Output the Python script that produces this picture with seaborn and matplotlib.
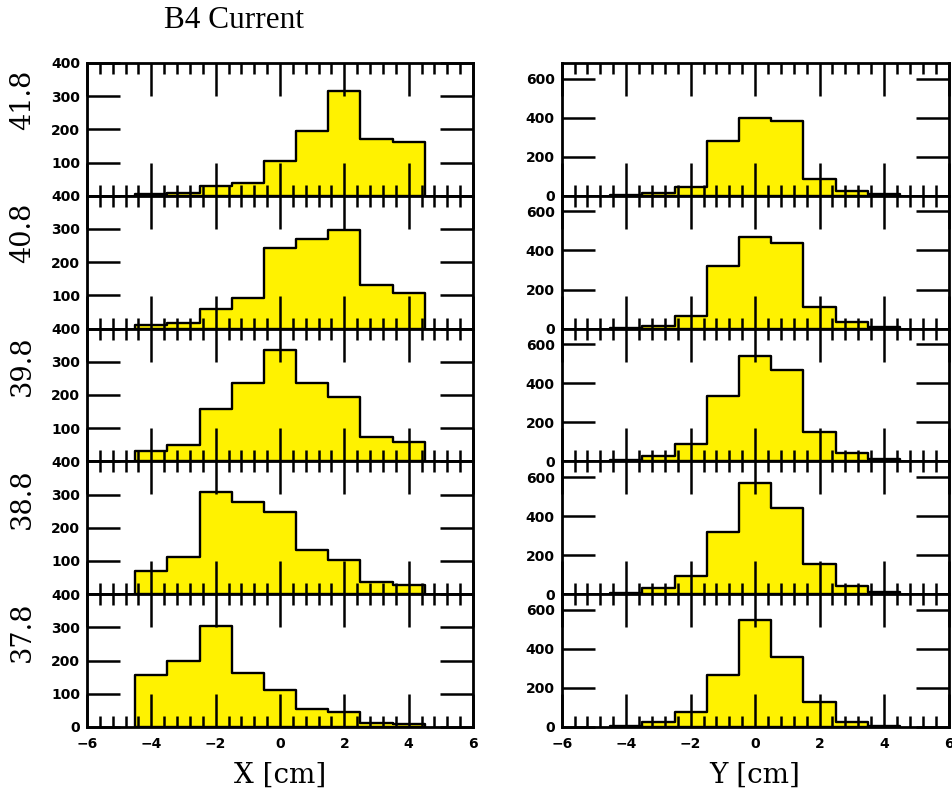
import numpy as np
import matplotlib
matplotlib.use("Agg")
import matplotlib.pyplot as plt
from matplotlib.ticker import MultipleLocator, FixedFormatter
import pandas as pd
import seaborn as sns

# B4 current settings, top to bottom
currents = ["41.8", "40.8", "39.8", "38.8", "37.8"]

# Common binning for both projections (cm)
bin_edges = [-4.5, -3.5, -2.5, -1.5, -0.5, 0.5, 1.5, 2.5, 3.5, 4.5]

# Counts per bin, X projection
x_41_8 = [6, 9, 30, 40, 105, 196, 317, 172, 162]
x_40_8 = [10, 16, 58, 92, 242, 270, 298, 132, 108]
x_39_8 = [30, 48, 157, 236, 337, 236, 195, 74, 57]
x_38_8 = [69, 113, 308, 277, 249, 133, 104, 37, 29]
x_37_8 = [158, 198, 304, 162, 112, 53, 46, 12, 10]

# Counts per bin, Y projection
y_41_8 = [3, 12, 45, 279, 396, 381, 86, 26, 7]
y_40_8 = [5, 15, 62, 321, 470, 437, 111, 36, 7]
y_39_8 = [5, 29, 89, 337, 542, 467, 150, 44, 14]
y_38_8 = [7, 34, 95, 321, 567, 440, 156, 40, 10]
y_37_8 = [7, 24, 77, 266, 550, 360, 129, 26, 7]

x_counts = [x_41_8, x_40_8, x_39_8, x_38_8, x_37_8]
y_counts = [y_41_8, y_40_8, y_39_8, y_38_8, y_37_8]

x_yticks = [0, 100, 200, 300, 400]
y_yticks = [0, 200, 400, 600]
xticks = [-6, -4, -2, 0, 2, 4, 6]

sns.set_style("ticks")
plt.rcParams["font.family"] = ["DejaVu Sans"]
plt.rcParams.update({"text.color": "black", "xtick.color": "black",
                     "ytick.color": "black", "axes.labelcolor": "black",
                     "axes.edgecolor": "black"})

W, H = 952, 792
fig = plt.figure(figsize=(W / 100, H / 100), dpi=100)

fill_color = "#fff200"
edges = np.asarray(bin_edges)
centers = 0.5 * (edges[:-1] + edges[1:])

top_px, panel_px = 63.0, 132.8
columns = [
    dict(left=87.0, width=386.0, counts=x_counts, ylim=400, yticks=x_yticks, xlabel="X [cm]"),
    dict(left=561.7, width=386.8, counts=y_counts, ylim=680, yticks=y_yticks, xlabel="Y [cm]"),
]

for ci, col in enumerate(columns):
    for ri, counts in enumerate(col["counts"]):
        bottom_px = top_px + (ri + 1) * panel_px
        ax = fig.add_axes([col["left"] / W, 1 - bottom_px / H,
                           col["width"] / W, panel_px / H])
        df = pd.DataFrame({"pos": centers, "count": counts})
        sns.histplot(data=df, x="pos", weights="count", bins=list(bin_edges),
                     element="step", fill=True, color=fill_color, alpha=1.0,
                     edgecolor="black", linewidth=1.7, ax=ax)
        ax.set_axisbelow(False)
        ax.set_xlim(-6, 6)
        ax.set_ylim(0, col["ylim"])
        ax.set_xticks(xticks)
        ax.xaxis.set_minor_locator(MultipleLocator(0.4))
        ax.set_yticks(col["yticks"])
        ylabels = [str(v) for v in col["yticks"]]
        # the zero of an upper X panel sits under the 400 of the panel below
        if ci == 0 and ri < 4:
            ylabels[0] = ""
        ax.yaxis.set_major_formatter(FixedFormatter(ylabels))
        ax.set_ylabel("")
        ax.set_xlabel("")
        for sp in ax.spines.values():
            sp.set_visible(True)
            sp.set_linewidth(2.0)
            sp.set_color("black")
            sp.set_zorder(5)
        ax.tick_params(axis="both", which="both", colors="black")
        ax.tick_params(axis="x", which="major", direction="in", length=24,
                       width=1.8, top=True, bottom=True, pad=7,
                       labelsize=10)
        ax.tick_params(axis="x", which="minor", direction="in", length=8,
                       width=1.8, top=True, bottom=True)
        ax.tick_params(axis="y", which="major", direction="in", length=24,
                       width=1.8, left=True, right=True, pad=5,
                       labelsize=10)
        for lab in ax.get_xticklabels() + ax.get_yticklabels():
            lab.set_fontweight("bold")
        if ri < 4:
            ax.tick_params(axis="x", labelbottom=False)
        else:
            ax.set_xlabel(col["xlabel"], fontsize=20, family="DejaVu Serif",
                          labelpad=8, color="black")
        if ci == 0:
            ax.text(-0.168, 0.72, currents[ri], transform=ax.transAxes,
                    rotation=90, ha="center", va="center", fontsize=19.5,
                    family="DejaVu Serif", color="black")

fig.text(234 / W, 1 - 20 / H, "B4 Current", ha="center", va="center",
         fontsize=22.5, family="Liberation Serif", color="black")

fig.savefig("out.png", dpi=100)
